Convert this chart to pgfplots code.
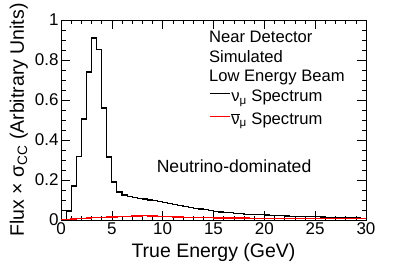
\documentclass[border=0pt]{standalone}
\usepackage{fontspec}
\setmainfont{Liberation Sans}
\usepackage{pgfplots}
\pgfplotsset{compat=1.18}
\begin{document}
\begin{tikzpicture}
\begin{axis}[
  at={(0pt,0pt)}, anchor=south west,
  scale only axis, width=305pt, height=200pt,
  set layers=standard,
  xmin=0, xmax=30, ymin=0, ymax=1,
  xtick={0,5,...,30}, ytick={0,0.2,...,1},
  yticklabels={0,0.2,0.4,0.6,0.8,1},
  minor x tick num=4, minor y tick num=3,
  tick align=inside, ticks=both,
  xtick pos=both, ytick pos=both,
  major tick length=9pt, minor tick length=4.5pt,
  axis line style={line width=0.8pt},
  every tick/.style={black, line width=0.6pt},
  /pgf/number format/assume math mode=true,
  tick label style={font=\fontsize{17}{20}\selectfont},
  yticklabel style={xshift=1pt},
  xticklabel style={yshift=1pt},
  xlabel={True Energy (GeV)},
  ylabel={Flux × σ\textsubscript{CC} (Arbitrary Units)},
  label style={font=\fontsize{19.5}{22}\selectfont},
  xlabel style={at={(axis description cs:0.5,-0.16)}, anchor=center},
  ylabel style={at={(axis description cs:-0.138,0.5)}, anchor=center},
  legend style={draw=none, fill=none, at={(axis cs:14.55,0.6575)}, anchor=north west,
    font=\fontsize{16.6}{20}\selectfont, inner sep=0pt,
    nodes={inner sep=1pt, text height=12pt, text depth=4pt}, row sep=4.5pt},
  legend cell align=left,
  legend image code/.code={\draw[#1] (0pt,3.8pt) -- (20pt,3.8pt);},
]
\addplot[const plot mark left, black, line width=1.1pt, forget plot] coordinates {
(0,0.004) (0.5,0.045) (1,0.17) (1.5,0.317) (2,0.505) (2.5,0.74) (3,0.91) (3.5,0.853)
(4,0.56) (4.5,0.315) (5,0.19) (5.5,0.14) (6,0.125) (6.5,0.117) (7,0.113) (7.5,0.109)
(8,0.105) (8.5,0.1) (9,0.096) (9.5,0.092) (10,0.088) (10.5,0.083) (11,0.078) (11.5,0.073)
(12,0.067) (12.5,0.063) (13,0.059) (13.5,0.055) (14,0.051) (14.5,0.047) (15,0.043) (15.5,0.04)
(16,0.038) (16.5,0.036) (17,0.033) (17.5,0.031) (18,0.029) (18.5,0.028) (19,0.027) (19.5,0.026)
(20,0.025) (20.5,0.024) (21,0.022) (21.5,0.021) (22,0.02) (22.5,0.019) (23,0.018) (23.5,0.018)
(24,0.017) (24.5,0.017) (25,0.016) (25.5,0.015) (26,0.014) (26.5,0.013) (27,0.012) (27.5,0.012)
(28,0.011) (28.5,0.01) (29,0.01) (29.5,0.009) (30,0.009)};
\addplot[const plot mark left, red, line width=1.4pt, forget plot] coordinates {
(0,0.002) (0.5,0.004) (1,0.006) (1.5,0.008) (2,0.009) (2.5,0.011) (3,0.012) (3.5,0.013)
(4,0.014) (4.5,0.015) (5,0.016) (5.5,0.017) (6,0.018) (6.5,0.019) (7,0.02) (7.5,0.021)
(8,0.022) (8.5,0.021) (9,0.02) (9.5,0.019) (10,0.018) (10.5,0.017) (11,0.016) (11.5,0.015)
(12,0.014) (12.5,0.014) (13,0.013) (13.5,0.013) (14,0.012) (14.5,0.012) (15,0.011) (15.5,0.011)
(16,0.011) (16.5,0.01) (17,0.01) (17.5,0.01) (18,0.01) (18.5,0.009) (19,0.009) (19.5,0.009)
(20,0.009) (20.5,0.009) (21,0.008) (21.5,0.008) (22,0.008) (22.5,0.008) (23,0.008) (23.5,0.008)
(24,0.008) (24.5,0.008) (25,0.007) (25.5,0.007) (26,0.007) (26.5,0.007) (27,0.007) (27.5,0.007)
(28,0.007) (28.5,0.007) (29,0.007) (29.5,0.007) (30,0.007)};
\addlegendimage{black, line width=1.1pt}
\addlegendentry{ν\textsubscript{μ} Spectrum}
\addlegendimage{red, line width=1.2pt}
\addlegendentry{$\overline{\hbox{ν}}$\textsubscript{μ} Spectrum}
\node[anchor=base west, font=\fontsize{16.6}{20}\selectfont, inner sep=0pt] at (axis cs:14.55,0.885) {Near Detector};
\node[anchor=base west, font=\fontsize{16.6}{20}\selectfont, inner sep=0pt] at (axis cs:14.55,0.785) {Simulated};
\node[anchor=base west, font=\fontsize{16.6}{20}\selectfont, inner sep=0pt] at (axis cs:14.55,0.69) {Low Energy Beam};
\node[anchor=base west, font=\fontsize{17.6}{20}\selectfont, inner sep=0pt] at (axis cs:9.4,0.237) {Neutrino-dominated};
\end{axis}
\path (-61pt,-56pt) rectangle (346pt,220pt);
\end{tikzpicture}
\end{document}
